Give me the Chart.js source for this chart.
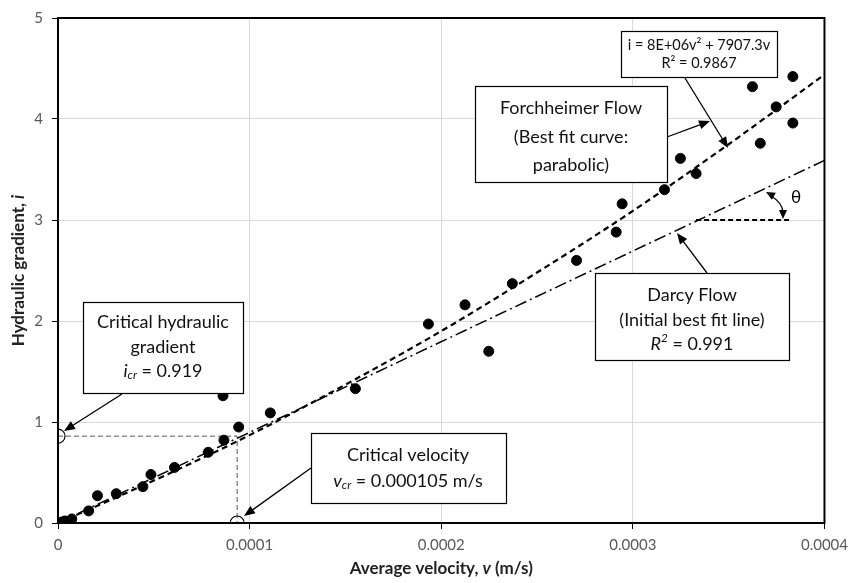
<!DOCTYPE html>
<html lang="en">
<head>
  <meta charset="UTF-8">
  <title>Hydraulic gradient vs average velocity</title>
  <script src="https://cdn.jsdelivr.net/npm/chart.js"></script>
  <style>
    html, body { margin: 0; padding: 0; background: #fff; }
    canvas { display: block; }
  </style>
</head>
<body>
  <canvas id="flowChart" width="855" height="583"></canvas>

  <script>
    // measured points
    const velocity = [0, 0.000002, 0.0000036, 0.0000072, 0.000016, 0.0000206, 0.0000304, 0.0000443,
      0.0000485, 0.0000608, 0.0000784, 0.0000866, 0.0000861, 0.0000943, 0.0001108, 0.0001552,
      0.0001933, 0.0002124, 0.0002248, 0.0002371, 0.0002706, 0.0002913, 0.0002944, 0.0003165,
      0.0003248, 0.000333, 0.0003624, 0.0003665, 0.0003748, 0.0003835, 0.0003835];
    const gradient = [0, 0.01, 0.02, 0.04, 0.12, 0.27, 0.29, 0.36,
      0.48, 0.55, 0.70, 0.82, 1.26, 0.95, 1.09, 1.33,
      1.97, 2.16, 1.70, 2.37, 2.60, 2.88, 3.16, 3.30,
      3.61, 3.46, 4.32, 3.76, 4.12, 4.42, 3.96];

    // Forchheimer best fit curve (parabolic)
    const fitVelocity = [0, 0.00005, 0.0001, 0.00015, 0.0002, 0.00025, 0.0003, 0.00035, 0.0004];
    const fitGradient = [0, 0.42, 0.87, 1.37, 1.90, 2.48, 3.09, 3.75, 4.44];

    // Darcy initial best fit line
    const darcyVelocity = [0, 0.0004];
    const darcyGradient = [0, 3.59];

    // critical point guides
    const guideVelocity = [0, 0.0000935, 0.0000935];
    const guideGradient = [0.86, 0.86, 0];
    const circleVelocity = [0, 0.0000935];
    const circleGradient = [0.86, 0];

    // horizontal reference for theta
    const thetaVelocity = [0.000333, 0.0003815];
    const thetaGradient = [3.0, 3.0];

    const toXY = (xs, ys) => xs.map((x, k) => ({ x: x, y: ys[k] }));

    const FONT = 'Lato, "Liberation Sans", sans-serif';
    const BOX_SIZE = 18;

    // draw a line of text made of styled runs, centred on cx
    function richLine(ctx, runs, cx, cy, size) {
      const fontOf = r => (r.italic ? 'italic ' : '') + (r.bold ? 'bold ' : '') +
        ((r.sub || r.sup) ? size * 0.65 : size) + 'px ' + FONT;
      let total = 0;
      runs.forEach(r => { ctx.font = fontOf(r); total += ctx.measureText(r.t).width; });
      let x = cx - total / 2;
      ctx.textAlign = 'left';
      ctx.textBaseline = 'middle';
      runs.forEach(r => {
        ctx.font = fontOf(r);
        let y = cy;
        if (r.sub) y += size * 0.25;
        if (r.sup) y -= size * 0.3;
        ctx.fillText(r.t, x, y);
        x += ctx.measureText(r.t).width;
      });
    }

    function arrow(ctx, x1, y1, x2, y2) {
      const ang = Math.atan2(y2 - y1, x2 - x1);
      const len = 11, half = 4.5;
      ctx.beginPath();
      ctx.moveTo(x1, y1);
      ctx.lineTo(x2 - Math.cos(ang) * len * 0.8, y2 - Math.sin(ang) * len * 0.8);
      ctx.stroke();
      arrowHead(ctx, x2, y2, ang, len, half);
    }

    function arrowHead(ctx, x, y, ang, len, half) {
      ctx.beginPath();
      ctx.moveTo(x, y);
      ctx.lineTo(x - Math.cos(ang) * len - Math.sin(ang) * half, y - Math.sin(ang) * len + Math.cos(ang) * half);
      ctx.lineTo(x - Math.cos(ang) * len + Math.sin(ang) * half, y - Math.sin(ang) * len - Math.cos(ang) * half);
      ctx.closePath();
      ctx.fill();
    }

    function box(ctx, l, t, r, b) {
      ctx.fillStyle = '#fff';
      ctx.fillRect(l, t, r - l, b - t);
      ctx.strokeStyle = '#000';
      ctx.lineWidth = 1.2;
      ctx.strokeRect(l + 0.5, t + 0.5, r - l, b - t);
      ctx.fillStyle = '#111';
    }

    const annotations = {
      id: 'annotations',
      afterDatasetsDraw(chart) {
        const ctx = chart.ctx;
        const a = chart.chartArea;
        ctx.save();
        // plot frame
        ctx.strokeStyle = '#000';
        ctx.lineWidth = 2;
        ctx.strokeRect(a.left, a.top, a.right - a.left, a.bottom - a.top);
        ctx.restore();
      },
      afterDraw(chart) {
        const ctx = chart.ctx;
        const a = chart.chartArea;
        ctx.save();
        ctx.strokeStyle = '#000';
        ctx.fillStyle = '#000';
        ctx.lineWidth = 1.3;

        // arrows
        arrow(ctx, 685, 78, 728, 148);
        arrow(ctx, 667, 137, 710, 121);
        arrow(ctx, 707, 273, 677, 233);
        arrow(ctx, 122, 394, 64, 431);
        arrow(ctx, 311, 468, 244, 516);

        // theta arc
        ctx.beginPath();
        ctx.moveTo(771, 196);
        ctx.quadraticCurveTo(783, 203, 783, 213);
        ctx.stroke();
        arrowHead(ctx, 766, 192, Math.atan2(-5, -9), 9, 4);
        arrowHead(ctx, 783, 219, Math.PI / 2, 9, 4);

        // boxes with text
        box(ctx, 621, 31, 777, 77);
        richLine(ctx, [{ t: 'i = 8E+06v² + 7907.3v' }], 699, 45, 14.5);
        richLine(ctx, [{ t: 'R² = 0.9867' }], 699, 63, 14.5);

        box(ctx, 475, 86, 667, 182);
        richLine(ctx, [{ t: 'Forchheimer Flow' }], 571, 108, BOX_SIZE);
        richLine(ctx, [{ t: '(Best fit curve:' }], 571, 137, BOX_SIZE);
        richLine(ctx, [{ t: 'parabolic)' }], 571, 165, BOX_SIZE);

        box(ctx, 595, 273, 789, 360);
        richLine(ctx, [{ t: 'Darcy Flow' }], 692, 295, BOX_SIZE);
        richLine(ctx, [{ t: '(Initial best fit line)' }], 692, 320, BOX_SIZE);
        richLine(ctx, [{ t: 'R', italic: true }, { t: '2', italic: true, sup: true }, { t: ' = 0.991' }], 692, 344, BOX_SIZE);

        box(ctx, 83, 302, 243, 393);
        richLine(ctx, [{ t: 'Critical hydraulic' }], 163, 322, BOX_SIZE);
        richLine(ctx, [{ t: 'gradient' }], 163, 347, BOX_SIZE);
        richLine(ctx, [{ t: 'i', italic: true }, { t: 'cr', italic: true, sub: true }, { t: ' = 0.919' }], 163, 371, BOX_SIZE);

        box(ctx, 311, 433, 506, 503);
        richLine(ctx, [{ t: 'Critical velocity' }], 408, 455, BOX_SIZE);
        richLine(ctx, [{ t: 'v', italic: true }, { t: 'cr', italic: true, sub: true }, { t: ' = 0.000105 m/s' }], 408, 481, BOX_SIZE);

        // theta symbol
        ctx.fillStyle = '#000';
        richLine(ctx, [{ t: 'θ' }], 796, 198, 17);

        // axis titles
        ctx.fillStyle = '#222';
        richLine(ctx, [{ t: 'Average velocity, ', bold: true }, { t: 'v', bold: true, italic: true }, { t: ' (m/s)', bold: true }],
          (a.left + a.right) / 2, 569, 17);
        ctx.save();
        ctx.translate(19, (a.top + a.bottom) / 2);
        ctx.rotate(-Math.PI / 2);
        richLine(ctx, [{ t: 'Hydraulic gradient, ', bold: true }, { t: 'i', bold: true, italic: true }], 0, 0, 17);
        ctx.restore();

        ctx.restore();
      }
    };

    const ctx = document.getElementById('flowChart').getContext('2d');
    new Chart(ctx, {
      type: 'scatter',
      data: {
        datasets: [
          {
            label: 'Measured',
            data: toXY(velocity, gradient),
            pointRadius: 5,
            pointBackgroundColor: '#000',
            pointBorderColor: '#000',
            order: 1
          },
          {
            label: 'Forchheimer',
            type: 'line',
            data: toXY(fitVelocity, fitGradient),
            borderColor: '#000',
            borderWidth: 2.2,
            borderDash: [6, 4],
            pointRadius: 0,
            cubicInterpolationMode: 'monotone',
            fill: false,
            order: 2
          },
          {
            label: 'Darcy',
            type: 'line',
            data: toXY(darcyVelocity, darcyGradient),
            borderColor: '#000',
            borderWidth: 1.5,
            borderDash: [12, 4, 2, 4],
            pointRadius: 0,
            fill: false,
            order: 3
          },
          {
            label: 'Guides',
            type: 'line',
            data: toXY(guideVelocity, guideGradient),
            borderColor: '#555',
            borderWidth: 1,
            borderDash: [5, 3],
            pointRadius: 0,
            fill: false,
            order: 4
          },
          {
            label: 'Critical',
            data: toXY(circleVelocity, circleGradient),
            pointRadius: 7,
            pointBackgroundColor: 'rgba(255,255,255,0)',
            pointBorderColor: '#000',
            pointBorderWidth: 1.2,
            order: 0
          },
          {
            label: 'Theta ref',
            type: 'line',
            data: toXY(thetaVelocity, thetaGradient),
            borderColor: '#000',
            borderWidth: 2,
            borderDash: [5, 3],
            pointRadius: 0,
            fill: false,
            order: 5
          }
        ]
      },
      options: {
        responsive: false,
        animation: false,
        layout: { padding: { top: 18, right: 21, left: 0, bottom: 0 } },
        plugins: {
          legend: { display: false },
          tooltip: { enabled: false }
        },
        scales: {
          x: {
            type: 'linear',
            min: 0,
            max: 0.0004,
            afterFit: s => { s.height = 60; },
            border: { display: false },
            grid: { color: '#d9d9d9', lineWidth: 1, tickColor: '#000', tickLength: 6 },
            ticks: {
              stepSize: 0.0001,
              padding: 7,
              color: '#595959',
              font: { family: FONT, size: 15 },
              callback: v => (v === 0 ? '0' : v.toFixed(4))
            }
          },
          y: {
            min: 0,
            max: 5,
            afterFit: s => { s.width = 58; },
            border: { display: false },
            grid: { color: '#d9d9d9', lineWidth: 1, tickColor: '#000', tickLength: 6 },
            ticks: {
              stepSize: 1,
              padding: 9,
              color: '#595959',
              font: { family: FONT, size: 15 }
            }
          }
        }
      },
      plugins: [annotations]
    });
  </script>
</body>
</html>
